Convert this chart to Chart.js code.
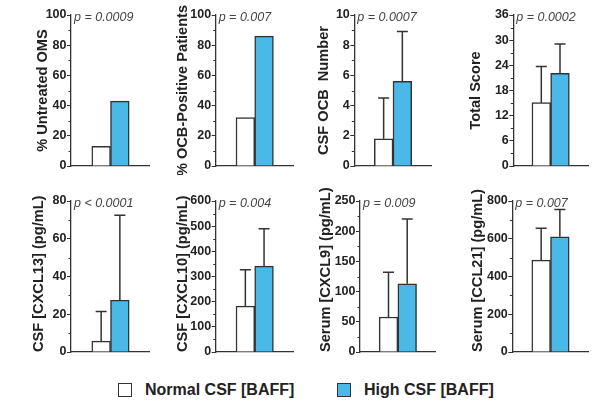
<!DOCTYPE html>
<html>
<head>
<meta charset="utf-8">
<script src="https://cdn.jsdelivr.net/npm/chart.js@4.4.1/dist/chart.umd.min.js"></script>
<style>
  body { margin: 0; background: #fff; }
  #wrap { position: relative; width: 600px; height: 401px; overflow: hidden; font-family: "Liberation Sans", Arial, sans-serif; }
  canvas { position: absolute; }
  .legend { position: absolute; top: 381px; height: 18px; display: flex; align-items: center; font-weight: bold; font-size: 16px; color: #222; }
  .box { width: 14px; height: 14px; box-sizing: border-box; border: 1.5px solid #333; margin-right: 13px; }
</style>
</head>
<body>
<div id="wrap">
  <div class="legend" style="left:118px"><span class="box" style="background:#fff"></span>Normal CSF [BAFF]</div>
  <div class="legend" style="left:337px"><span class="box" style="background:#4bb9e7"></span>High CSF [BAFF]</div>
</div>

<script>
// values
const panelTitles = ["% Untreated OMS", "% OCB-Positive Patients", "CSF OCB  Number", "Total Score",
  "CSF [CXCL13] (pg/mL)", "CSF [CXCL10] (pg/mL)", "Serum [CXCL9] (pg/mL)", "Serum [CCL21] (pg/mL)"];
const pLabels = ["p = 0.0009", "p = 0.007", "p = 0.0007", "p = 0.0002", "p < 0.0001", "p = 0.004", "p = 0.009", "p = 0.007"];
const normalMeans = [13, 32, 1.8, 15.1, 5.8, 182, 58, 487];
const highMeans = [43, 86, 5.6, 22.1, 27.5, 341, 113, 610];
const normalUpper = [null, null, 4.5, 23.7, 21.5, 327, 132, 655];
const highUpper = [null, null, 8.9, 29.1, 72.5, 490, 220, 755];
const axisMax = [100, 100, 10, 36, 80, 600, 250, 800];
const majorStep = [20, 20, 2, 6, 20, 100, 50, 200];

// layout of each small panel (px inside its 150px column)
const axisLeft = [71, 65.7, 54.3, 63.3, 71, 65.7, 60, 62.3];
const axisRight = [150, 143.7, 131.7, 138, 150, 143.7, 135.7, 138.7];
const titleX = [43, 33, 24, 26, 39, 32.5, 25.5, 28];

const BLUE = "#4bb9e7";
const INK = "#333";
const TITLE_SIZE = 14.6;

const errorBars = {
  id: "errorBars",
  afterDatasetsDraw(chart, args, opts) {
    const ctx = chart.ctx;
    const y = chart.scales.y;
    ctx.save();
    ctx.strokeStyle = "#333";
    ctx.lineWidth = 1.5;
    opts.upper.forEach((u, di) => {
      if (u == null) return;
      const bar = chart.getDatasetMeta(di).data[0];
      const top = y.getPixelForValue(u);
      ctx.beginPath();
      ctx.moveTo(bar.x, bar.y);
      ctx.lineTo(bar.x, top);
      ctx.moveTo(bar.x - 5.5, top);
      ctx.lineTo(bar.x + 5.5, top);
      ctx.stroke();
    });
    ctx.restore();
  }
};

const extras = {
  id: "extras",
  afterDraw(chart, args, opts) {
    const ctx = chart.ctx;
    const y = chart.scales.y;
    const step = chart.options.scales.y.ticks.stepSize / 2;
    ctx.save();
    ctx.strokeStyle = INK;
    ctx.lineWidth = 1;
    for (let v = step; v < y.max; v += step * 2) {
      const py = Math.round(y.getPixelForValue(v)) + 0.5;
      ctx.beginPath();
      ctx.moveTo(y.right - 2.5, py);
      ctx.lineTo(y.right, py);
      ctx.stroke();
    }
    ctx.fillStyle = "#444";
    ctx.font = "italic 12.5px 'Liberation Sans', Arial, sans-serif";
    ctx.textBaseline = "middle";
    ctx.fillText(opts.text, chart.chartArea.left + 3, chart.chartArea.top + 3);
    ctx.restore();
  }
};

const wrap = document.getElementById("wrap");

panelTitles.forEach((title, i) => {
  const col = i % 4, row = Math.floor(i / 4);
  const h = row === 0 ? 175 : 185;
  const canvas = document.createElement("canvas");
  canvas.width = 150;
  canvas.height = h;
  canvas.style.left = (col * 150) + "px";
  canvas.style.top = (row === 0 ? 0 : 175) + "px";
  wrap.appendChild(canvas);

  new Chart(canvas, {
    type: "bar",
    data: {
      labels: [""],
      datasets: [
        { label: "Normal CSF [BAFF]", data: [normalMeans[i]], backgroundColor: "#fff", borderColor: INK, borderWidth: 1.5, barThickness: 18.7 },
        { label: "High CSF [BAFF]", data: [highMeans[i]], backgroundColor: BLUE, borderColor: INK, borderWidth: 1.5, barThickness: 18.7 }
      ]
    },
    options: {
      responsive: false,
      animation: false,
      layout: {
        padding: { left: 0, right: 150 - axisRight[i], top: row === 0 ? 15 : 26, bottom: row === 0 ? 9 : 8 }
      },
      plugins: {
        legend: { display: false },
        tooltip: { enabled: false },
        errorBars: { upper: [normalUpper[i], highUpper[i]] },
        extras: { text: pLabels[i] }
      },
      scales: {
        x: {
          grid: { display: true, drawOnChartArea: false, drawTicks: false },
          border: { color: INK, width: 1.3 },
          ticks: { display: false },
          afterFit: s => { s.height = 0; }
        },
        y: {
          min: 0,
          max: axisMax[i],
          ticks: {
            stepSize: majorStep[i],
            padding: 0.5,
            color: "#222",
            font: { family: "'Liberation Sans', Arial, sans-serif", size: 12.5, weight: "bold" }
          },
          grid: { drawOnChartArea: false, drawTicks: true, tickLength: 4, tickColor: INK },
          border: { color: INK, width: 1.3 },
          title: {
            display: true,
            text: title,
            color: "#222",
            align: row === 0 ? "center" : "start",
            padding: { top: titleX[i] - TITLE_SIZE * 0.6, bottom: 0 },
            font: { family: "'Liberation Sans', Arial, sans-serif", size: TITLE_SIZE, weight: "bold" }
          },
          afterFit: s => {
            s.width = axisLeft[i];
            s.paddingTop = 0;
            s.paddingBottom = 0;
          }
        }
      }
    },
    plugins: [errorBars, extras]
  });
});
</script>
</body>
</html>
